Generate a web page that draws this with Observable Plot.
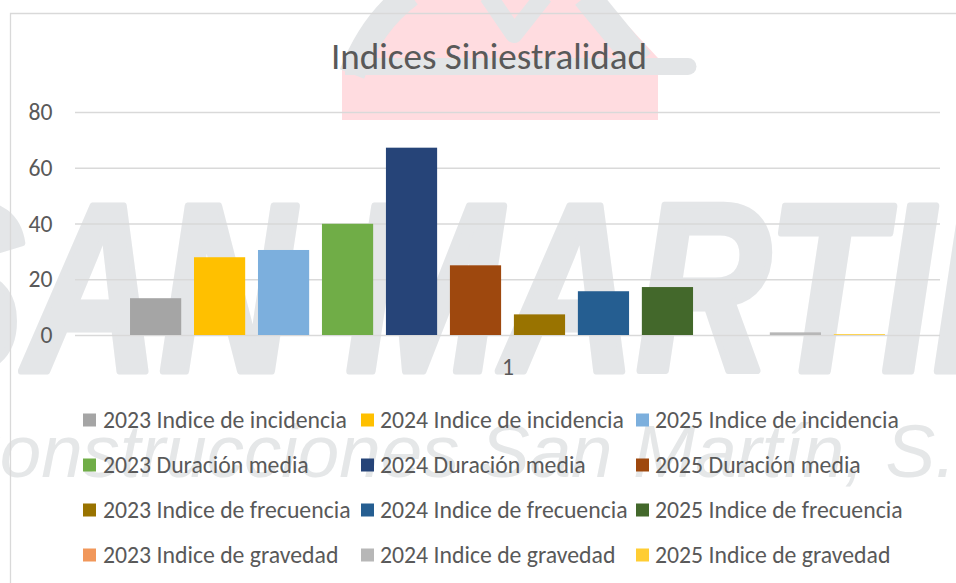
<!DOCTYPE html>
<html>
<head>
<meta charset="utf-8">
<script src="https://cdn.jsdelivr.net/npm/d3@7"></script>
<script src="https://cdn.jsdelivr.net/npm/@observablehq/plot@0.6"></script>
<style>
  html, body { margin: 0; padding: 0; background: #fff; }
  #wrap { position: relative; width: 956px; height: 583px; overflow: hidden; background: #fff; }
  #wrap > * { position: absolute; left: 0; top: 0; }
  #fg { pointer-events: none; }
</style>
</head>
<body>
<div id="wrap">
  <svg id="bg" width="956" height="583"></svg>
  <div id="chart"></div>
  <svg id="fg" width="956" height="583"></svg>
</div>
<script>
// ---------- data ----------
const categories = ["1"];
const seriesNames = [
  "2023 Indice de incidencia", "2024 Indice de incidencia", "2025 Indice de incidencia",
  "2023 Duración media", "2024 Duración media", "2025 Duración media",
  "2023 Indice de frecuencia", "2024 Indice de frecuencia", "2025 Indice de frecuencia",
  "2023 Indice de gravedad", "2024 Indice de gravedad", "2025 Indice de gravedad"
];
const seriesValues = [13.2, 27.9, 30.5, 39.9, 67.2, 25.0, 7.4, 15.7, 17.2, 0, 0.95, 0.3];
const seriesColors = [
  "#A5A5A5", "#FFC000", "#7CAFDD",
  "#70AD47", "#264478", "#9E480E",
  "#997300", "#255E91", "#43682B",
  "#F1975A", "#B7B7B7", "#FFCD33"
];
const yTicks = [0, 20, 40, 60, 80];
const chartTitle = "Indices Siniestralidad";
const watermarkMain = "SAN MARTIN";
const watermarkSub = "Construcciones San Martín, S.";

// ---------- fonts ----------
const FONT = "Carlito, Calibri, Lato, sans-serif";
const TEXT = "#595959";
const ctx = document.createElement("canvas").getContext("2d");
function measure(text, size) {
  ctx.font = `${size}px ${FONT}`;
  return ctx.measureText(text);
}
function fit(text, target) { return 100 * target / measure(text, 100).width; }
function capRatio(text) { return measure(text, 100).actualBoundingBoxAscent / 100; }

const titleSize = fit(chartTitle, 316);
const legendSize = fit(seriesNames[0], 244);
const tickFont = fit("80", 24);
const digitCap = capRatio("2023");

// ---------- background (watermark) ----------
const bg = d3.select("#bg");
bg.append("path")
  .attr("d", "M342,120 L342,70 L392,0 L604,0 L658,58 L658,120 Z")
  .attr("fill", "#FFDCE0");
const logoGray = "#E3E5E7";
bg.append("path").attr("d", "M352,74 Q372,22 410,-6").attr("fill", "none")
  .attr("stroke", logoGray).attr("stroke-width", 26);
bg.append("path").attr("d", "M488,-4 L514,34 L544,-4").attr("fill", "none")
  .attr("stroke", logoGray).attr("stroke-width", 18).attr("stroke-linejoin", "round");
bg.append("path").attr("d", "M586,-4 L640,62").attr("fill", "none")
  .attr("stroke", logoGray).attr("stroke-width", 28);
bg.append("path").attr("d", "M345,58 L688,58 A8.5,8.5 0 0 1 688,75 L345,75 Z").attr("fill", logoGray);

bg.append("text")
  .attr("x", -100).attr("y", 371)
  .attr("font-family", "'Liberation Sans', Arial, sans-serif")
  .attr("font-weight", "bold").attr("font-style", "italic")
  .attr("font-size", 240)
  .attr("textLength", 1168).attr("lengthAdjust", "spacingAndGlyphs")
  .attr("fill", "#E4E6E8")
  .attr("stroke", "#E4E6E8").attr("stroke-width", 7).attr("stroke-linejoin", "round")
  .text(watermarkMain);
bg.append("text")
  .attr("x", -54).attr("y", 477)
  .attr("font-family", "'Liberation Sans', Arial, sans-serif")
  .attr("font-style", "italic")
  .attr("font-size", 74)
  .attr("textLength", 1010).attr("lengthAdjust", "spacingAndGlyphs")
  .attr("fill", "#E5E7E8")
  .text(watermarkSub);
bg.append("path").attr("d", "M10.5,583 L10.5,13.5 L956,13.5")
  .attr("fill", "none").attr("stroke", "#D9D9D9").attr("stroke-width", 1.3);

// ---------- chart ----------
const data = seriesNames.map((s, i) => ({ category: categories[0], series: s, value: seriesValues[i] }));
const H = 390, MB = 55;
const chart = Plot.plot({
  width: 956,
  height: H,
  marginLeft: 75,
  marginRight: 16,
  marginTop: 112,
  marginBottom: MB,
  style: { background: "transparent", fontFamily: FONT, fontSize: `${tickFont}px`, color: TEXT },
  fx: { domain: categories, padding: 0, round: false, axis: "bottom", label: null, tickSize: 0,
        tickPadding: (374 - (H - MB)) - 0.71 * tickFont },
  x: { domain: seriesNames, axis: null, round: false, paddingInner: 0.2, paddingOuter: 0.86 },
  y: { domain: [0, 80], ticks: yTicks, tickSize: 0, tickPadding: 23, label: null },
  color: { domain: seriesNames, range: seriesColors },
  marks: [
    Plot.ruleY(yTicks, { stroke: "#D9D9D9", strokeWidth: 1.3 }),
    Plot.barY(data, { fx: "category", x: "series", y: "value", fill: "series" })
  ]
});
document.getElementById("chart").appendChild(chart);

// ---------- title & legend ----------
const fg = d3.select("#fg");
fg.append("text")
  .attr("x", 489).attr("y", 69)
  .attr("text-anchor", "middle")
  .attr("font-family", FONT).attr("font-size", titleSize)
  .attr("fill", TEXT)
  .text(chartTitle);

const swatchX = [83, 361, 636];
const labelX = [103, 380, 655];
const rowY = [420, 465, 510, 555];
const sw = 13;
const items = fg.selectAll("g.item").data(seriesNames).join("g").attr("class", "item");
items.append("rect")
  .attr("x", (d, i) => swatchX[i % 3])
  .attr("y", (d, i) => rowY[Math.floor(i / 3)] - sw / 2)
  .attr("width", sw).attr("height", sw)
  .attr("fill", (d, i) => seriesColors[i]);
items.append("text")
  .attr("x", (d, i) => labelX[i % 3])
  .attr("y", (d, i) => rowY[Math.floor(i / 3)] + digitCap * legendSize / 2)
  .attr("font-family", FONT).attr("font-size", legendSize)
  .attr("fill", TEXT)
  .text(d => d);
</script>
</body>
</html>
